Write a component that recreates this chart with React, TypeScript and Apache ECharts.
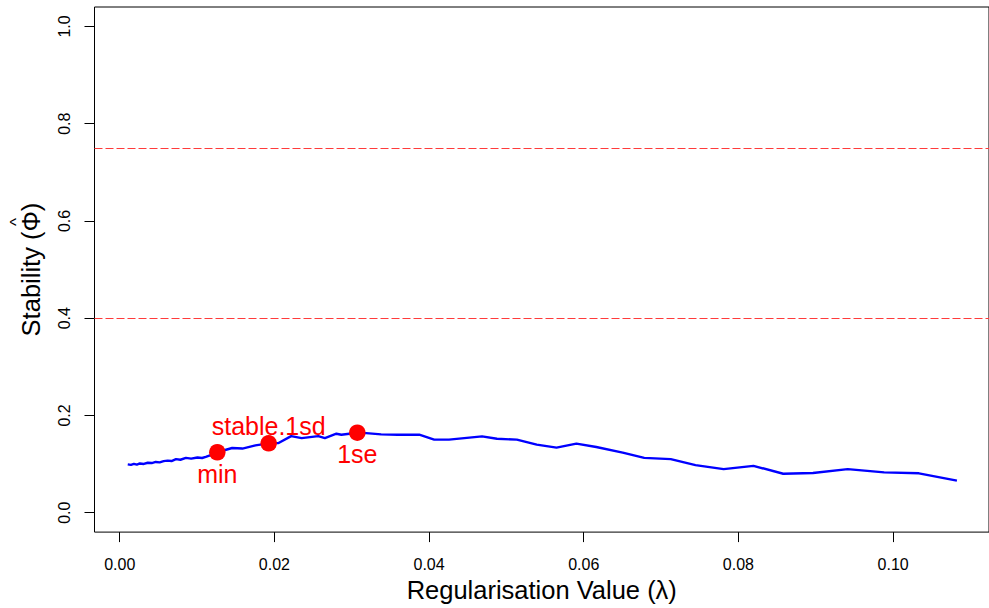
import React, { useEffect, useRef } from "react";
import * as echarts from "echarts";

const lambdaValues = [
  0.00104, 0.00145, 0.00183, 0.00222, 0.0026, 0.00311, 0.00363, 0.00414, 0.00466, 0.00517,
  0.00568, 0.0062, 0.0067, 0.00728, 0.00784, 0.00856, 0.00924, 0.01005, 0.01065, 0.01113,
  0.01177, 0.01262, 0.01454, 0.01586, 0.01755, 0.01926, 0.02054, 0.02217, 0.02353, 0.02567,
  0.02653, 0.02802, 0.02866, 0.03072, 0.03187, 0.0338, 0.03594, 0.03873, 0.04066, 0.04258,
  0.04685, 0.04878, 0.05135, 0.05392, 0.05648, 0.05905, 0.06162, 0.06504, 0.06782, 0.07125,
  0.07445, 0.07809, 0.08194, 0.08579, 0.08964, 0.09413, 0.09884, 0.10334, 0.10825,
];
const stabilityValues = [
  0.0992, 0.0982, 0.1002, 0.0988, 0.1012, 0.1002, 0.1026, 0.102, 0.1043, 0.1035,
  0.1059, 0.1069, 0.1061, 0.11, 0.1088, 0.1126, 0.1112, 0.1134, 0.1124, 0.1147,
  0.1181, 0.1242, 0.133, 0.1318, 0.1385, 0.1426, 0.1432, 0.1574, 0.1534, 0.1574,
  0.1534, 0.1623, 0.1603, 0.1644, 0.1635, 0.1609, 0.1603, 0.1603, 0.1501, 0.1501,
  0.1568, 0.1521, 0.1501, 0.1399, 0.1338, 0.142, 0.135, 0.1236, 0.1126, 0.11,
  0.0978, 0.0896, 0.0963, 0.08, 0.0815, 0.0896, 0.0829, 0.0809, 0.0658,
];

const markerNames = ["min", "stable.1sd", "1se"];
const markerLambda = [0.01262, 0.01926, 0.03072];
const markerStability = [0.1242, 0.1426, 0.1644];
const markerLabelPositions = ["bottom", "top", "bottom"];

const thresholdValues = [0.75, 0.4];
const xTickValues = [0, 0.02, 0.04, 0.06, 0.08, 0.1];
const yTickValues = [0, 0.2, 0.4, 0.6, 0.8, 1.0];

const FONT = "'Liberation Sans', Arial, Helvetica, sans-serif";
const THRESHOLD_COLOR = "#ff3b3b";

export default function App() {
  const ref = useRef<HTMLDivElement>(null);

  useEffect(() => {
    if (!ref.current) return;
    const chart = echarts.init(ref.current, null, { renderer: "svg" });
    const lineData = lambdaValues.map((x, i) => [x, stabilityValues[i]]);
    const markerData = markerNames.map((name, i) => ({
      name,
      value: [markerLambda[i], markerStability[i]],
      label: {
        position: markerLabelPositions[i],
        distance: markerLabelPositions[i] === "top" ? -3.5 : 0.5,
      },
    }));

    const thresholdSeries = thresholdValues.map((v, i) => ({
      type: "line",
      name: "threshold" + i,
      data: [],
      silent: true,
      markLine: {
        silent: true,
        symbol: "none",
        animation: false,
        label: { show: false },
        emphasis: { disabled: true },
        lineStyle: { color: THRESHOLD_COLOR, width: 1, type: [8, 3], opacity: 1 },
        data: [{ yAxis: v }],
      },
    }));

    chart.setOption({
      animation: false,
      backgroundColor: "#ffffff",
      textStyle: { fontFamily: FONT },
      grid: {
        left: 94.3,
        top: 7,
        width: 902,
        height: 532,
        show: true,
        borderColor: "#000000",
        borderWidth: 1,
        backgroundColor: "transparent",
      },
      xAxis: {
        type: "value",
        min: -0.00326,
        max: 0.1124,
        axisLine: { show: false, onZero: false },
        splitLine: { show: false },
        axisTick: {
          show: true,
          inside: false,
          length: 10,
          customValues: xTickValues,
          lineStyle: { color: "#000000", width: 1 },
        },
        axisLabel: {
          customValues: xTickValues,
          formatter: (v: number) => v.toFixed(2),
          fontSize: 16,
          color: "#000000",
          fontFamily: FONT,
          margin: 24,
        },
        name: "Regularisation Value (λ)",
        nameLocation: "middle",
        nameGap: 35,
        nameTextStyle: { fontSize: 25.5, lineHeight: 25.5, color: "#000000", fontFamily: FONT },
      },
      yAxis: {
        type: "value",
        min: -0.04,
        max: 1.04,
        axisLine: { show: false, onZero: false },
        splitLine: { show: false },
        axisTick: {
          show: true,
          inside: false,
          length: 10,
          customValues: yTickValues,
          lineStyle: { color: "#000000", width: 1 },
        },
        axisLabel: {
          customValues: yTickValues,
          formatter: (v: number) => v.toFixed(1),
          rotate: 90,
          fontSize: 16,
          color: "#000000",
          fontFamily: FONT,
          margin: 22,
        },
        name: "{sp| }{hat|^}\n{main|Stability (Φ)}",
        nameLocation: "middle",
        nameGap: 51,
        nameTextStyle: {
          fontSize: 25.5,
          color: "#000000",
          fontFamily: FONT,
          rich: {
            sp: { width: 95, fontSize: 16, lineHeight: 3, fontFamily: FONT },
            hat: { fontSize: 17, lineHeight: 3, color: "#000000", fontFamily: FONT },
            main: { fontSize: 25.5, lineHeight: 25.5, color: "#000000", fontFamily: FONT },
          },
        },
      },
      series: [
        {
          type: "line",
          name: "stability",
          data: lineData,
          showSymbol: false,
          symbol: "none",
          lineStyle: { color: "#0000ff", width: 2.4 },
          itemStyle: { color: "#0000ff" },
          z: 2,
        },
        ...thresholdSeries,
        {
          type: "scatter",
          name: "markers",
          data: markerData,
          symbol: "circle",
          symbolSize: 16.5,
          itemStyle: { color: "#ff0000", opacity: 1 },
          z: 3,
          label: {
            show: true,
            formatter: "{b}",
            fontSize: 25,
            color: "#ff0000",
            fontFamily: FONT,
          },
        },
      ],
    });

    return () => chart.dispose();
  }, []);

  return (
    <div
      ref={ref}
      style={{ position: "fixed", left: 0, top: 0, width: 989, height: 608, background: "#ffffff" }}
    />
  );
}
